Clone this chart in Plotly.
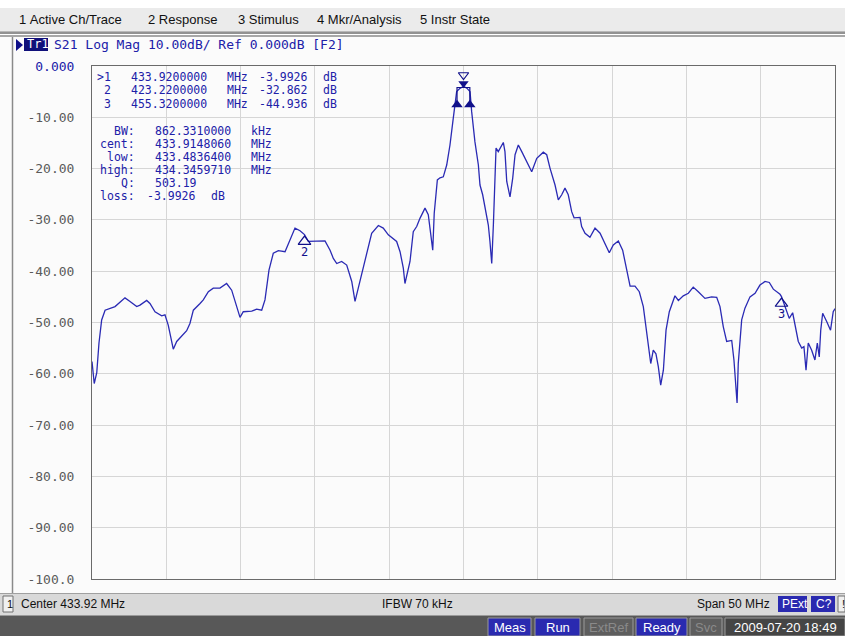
import plotly.graph_objects as go

# ---------------- data ----------------
FREQ_MHZ = [408.92, 409.07, 409.24, 409.39, 409.57, 409.80, 410.47, 411.14, 411.48, 411.93,
            412.15, 412.60, 412.82, 413.16, 413.61, 413.83, 414.05, 414.39, 414.62, 414.96,
            415.29, 415.51, 415.74, 416.19, 416.41, 416.75, 417.08, 417.53, 417.98, 418.32,
            418.54, 418.88, 419.10, 419.67, 420.00, 420.34, 420.56, 420.83, 421.12, 421.46,
            421.91, 422.13, 422.58, 422.92, 423.22, 423.48, 424.15, 424.60, 424.94, 425.16,
            425.39, 425.72, 426.06, 426.40, 426.62, 427.07, 427.41, 427.74, 428.19, 428.52,
            428.86, 429.42, 429.65, 429.87, 429.98, 430.32, 430.54, 430.77, 430.99, 431.33,
            431.55, 431.78, 431.85, 431.95, 432.16, 432.34, 432.56, 432.79, 433.01, 433.23,
            433.35, 433.46, 433.68, 433.92, 434.14, 434.36, 434.47, 434.69, 434.92, 435.03,
            435.21, 435.37, 435.59, 435.70, 435.82, 435.93, 436.04, 436.11, 436.26, 436.42,
            436.60, 436.71, 436.83, 437.05, 437.23, 437.39, 437.61, 437.84, 438.17, 438.51,
            438.85, 439.29, 439.52, 439.74, 440.08, 440.30, 440.53, 440.75, 440.97, 441.20,
            441.36, 441.76, 441.87, 442.10, 442.43, 442.77, 443.11, 443.44, 443.73, 444.00,
            444.34, 444.63, 444.90, 445.13, 445.46, 445.75, 446.02, 446.25, 446.36, 446.52,
            446.69, 446.87, 447.03, 447.19, 447.37, 447.55, 447.77, 448.04, 448.15, 448.38,
            448.71, 449.05, 449.38, 449.72, 450.17, 450.62, 450.96, 451.18, 451.40, 451.63,
            451.97, 452.12, 452.26, 452.33, 452.41, 452.64, 452.86, 453.20, 453.54, 453.87,
            454.21, 454.50, 454.77, 455.22, 455.32, 455.55, 455.84, 456.07, 456.23, 456.45,
            456.68, 456.83, 456.97, 457.12, 457.35, 457.57, 457.73, 457.86, 457.96, 458.09,
            458.36, 458.62, 458.80, 458.92]
S21_DB = [-57.6, -61.9, -59.8, -54.0, -49.5, -47.6, -46.9, -45.2, -45.9, -46.9,
          -46.6, -45.7, -46.3, -47.9, -48.7, -48.5, -50.5, -55.2, -53.7, -52.6,
          -51.6, -50.2, -47.6, -46.3, -45.6, -44.0, -43.3, -43.3, -42.4, -43.7,
          -45.6, -49.0, -47.9, -47.8, -47.4, -47.6, -45.6, -39.8, -36.5, -36.0,
          -36.2, -34.6, -31.6, -32.1, -32.86, -34.2, -34.2, -34.1, -35.9, -37.5,
          -38.5, -38.1, -38.8, -42.0, -45.9, -40.7, -36.2, -32.6, -31.1, -31.6,
          -32.9, -34.2, -36.2, -39.4, -42.4, -38.1, -32.3, -31.3, -29.7, -27.7,
          -29.0, -34.2, -35.9, -28.7, -22.2, -21.8, -21.6, -19.3, -15.4, -10.2,
          -7.6, -5.0, -4.35, -3.99, -4.3, -5.0, -8.9, -14.8, -19.3, -23.2,
          -25.1, -27.7, -31.0, -34.2, -38.5, -31.0, -21.2, -16.0, -16.7, -15.7,
          -14.9, -16.7, -22.5, -25.5, -21.9, -17.3, -15.4, -16.7, -18.6, -20.6,
          -18.0, -16.8, -17.3, -19.9, -23.2, -26.1, -25.1, -23.8, -25.1, -28.4,
          -29.6, -29.5, -31.3, -32.6, -33.4, -31.6, -32.6, -34.6, -36.4, -34.9,
          -34.1, -35.9, -40.1, -42.9, -42.9, -44.0, -46.9, -52.1, -55.4, -58.0,
          -55.4, -56.1, -58.6, -62.2, -59.3, -51.5, -47.9, -45.6, -44.8, -45.7,
          -44.8, -44.3, -43.1, -44.0, -45.3, -45.0, -45.1, -46.9, -50.8, -53.7,
          -53.5, -57.3, -63.8, -65.7, -58.0, -49.5, -47.2, -45.0, -44.3, -42.7,
          -42.0, -42.2, -43.5, -44.5, -44.94, -46.9, -49.2, -48.1, -50.8, -53.7,
          -55.0, -54.7, -59.3, -54.0, -55.4, -57.3, -54.0, -56.7, -51.5, -48.2,
          -49.8, -51.5, -47.9, -47.3]

MARKER_IDS = ["1", "2", "3"]
MARKER_FREQ = [433.92, 423.22, 455.32]
MARKER_DB = [-3.9926, -32.862, -44.936]

BW_LOW = 433.48364
BW_HIGH = 434.345971
BW_LEVEL = -6.9926
BW_LABELS = ["BW:", "cent:", "low:", "high:", "Q:", "loss:"]
BW_VALUES = ["862.3310000", "433.9148060", "433.4836400", "434.3459710", "503.19", "-3.9926"]
BW_UNITS = ["kHz", "MHz", "MHz", "MHz", "", "dB"]

Y_TICKS = [0, -10, -20, -30, -40, -50, -60, -70, -80, -90, -100]
Y_TICK_LABELS = ["0.000", "-10.00", "-20.00", "-30.00", "-40.00", "-50.00",
                 "-60.00", "-70.00", "-80.00", "-90.00", "-100.0"]

CENTER_MHZ = 433.92
SPAN_MHZ = 50.0
MENU_ITEMS = ["1 Active Ch/Trace", "2 Response", "3 Stimulus", "4 Mkr/Analysis", "5 Instr State"]

# ---------------- geometry / style ----------------
W, H = 845, 636
PL, PR, PT, PB = 92, 835, 66, 579
BLUE = "#2020a8"
DKBLUE = "#10108a"
TRACE = "#2a2ab4"
MONO = "DejaVu Sans Mono"
SANS = "Liberation Sans"
x0 = CENTER_MHZ - SPAN_MHZ / 2
x1 = CENTER_MHZ + SPAN_MHZ / 2
dB_per_px = 100.0 / (PB - PT)
MHz_per_px = SPAN_MHZ / (PR - PL)


def px(x):
    return x / W


def py(y):
    return 1 - y / H


def nb(s):
    return s.replace(" ", "\u00a0")


shapes = []
annotations = []


def rect(xa, ya, xb, yb, fill, line=None, lw=0):
    shapes.append(dict(type="rect", xref="paper", yref="paper", x0=px(xa), x1=px(xb),
                       y0=py(yb), y1=py(ya), fillcolor=fill,
                       line=dict(color=line or fill, width=lw), layer="below"))


def hline(xa, xb, y, color, w=1):
    shapes.append(dict(type="line", xref="paper", yref="paper", x0=px(xa), x1=px(xb),
                       y0=py(y), y1=py(y), line=dict(color=color, width=w), layer="below"))


def vline(x, ya, yb, color, w=1):
    shapes.append(dict(type="line", xref="paper", yref="paper", x0=px(x), x1=px(x),
                       y0=py(ya), y1=py(yb), line=dict(color=color, width=w), layer="below"))


def text(x, y, s, size=12, color="#000", font=SANS, anchor="left"):
    annotations.append(dict(xref="paper", yref="paper", x=px(x), y=py(y), text=nb(s),
                            showarrow=False, xanchor=anchor, yanchor="middle",
                            font=dict(family=font, size=size, color=color)))


# window chrome
rect(0, 0, W, 8, "#ffffff")
rect(0, 8, W, 31, "#ebebeb")
hline(0, W, 31.5, "#b8b8b8")
hline(0, W, 33, "#6e6e6e", 1.5)
hline(0, W, 36, "#8a8a8a", 1.5)
rect(0, 37, W, 593, "#fbfbfb")
vline(12.5, 37, 593, "#8a8a8a", 1.5)
rect(0, 593, W, 615, "#d9d9d9")
hline(0, W, 593.5, "#a0a0a0")
rect(0, 615, W, H, "#585858")
hline(0, W, 615.5, "#9a9a9a")

# menu
menu_x = [17, 146, 236, 315, 418]
for mx, item in zip(menu_x, MENU_ITEMS):
    text(mx, 19, item, size=13, color="#111111")

# title line
shapes.append(dict(type="path", xref="paper", yref="paper",
                   path=f"M {px(16)} {py(39)} L {px(23)} {py(45)} L {px(16)} {py(51)} Z",
                   fillcolor=DKBLUE, line=dict(color=DKBLUE, width=0)))
rect(24, 38, 48, 51, "#10107a")
text(25, 44.5, "Tr1", size=12, color="#ffffff", font=MONO)
text(52, 44.5, "S21 Log Mag 10.00dB/ Ref 0.000dB [F2]", size=13, color=BLUE, font=MONO)

# status bar
rect(3, 596, 13, 612, "#f0f0f0", "#707070", 1)
text(5, 604, "1", size=11, color="#111")
text(19, 604, f"Center {CENTER_MHZ:.2f} MHz", size=12, color="#111")
text(380, 604, "IFBW 70 kHz", size=12, color="#111")
text(695, 604, f"Span {SPAN_MHZ:.0f} MHz", size=12, color="#111")
rect(778, 596, 807, 612, "#2a2ab0")
text(780, 604, "PExt", size=12, color="#ffffff")
rect(811, 596, 835, 612, "#2a2ab0")
text(814, 604, "C?", size=12, color="#ffffff")
rect(838, 596, 845, 612, "#f0f0f0", "#707070", 1)
text(839.5, 604, "!", size=11, color="#111")

# bottom bar
bottom_items = [(488, 531, "Meas", "#2a2ab0", "#ffffff"),
                (535, 580, "Run", "#2a2ab0", "#ffffff"),
                (584, 633, "ExtRef", "#5e5e5e", "#8a8a8a"),
                (636, 687, "Ready", "#2a2ab0", "#ffffff"),
                (690, 722, "Svc", "#5e5e5e", "#8a8a8a"),
                (725, 845, "2009-07-20 18:49", "#454545", "#ffffff")]
for bx0, bx1, label, bg, fg in bottom_items:
    rect(bx0, 618, bx1, 636, bg, "#9a9a9a", 1)
    text((bx0 + bx1) / 2, 627, label, size=13, color=fg, anchor="center")

# marker readout text (columns placed on an 8 px character grid)
RS = 11.5
cx = 97.3
for i, (mid, f, v) in enumerate(zip(MARKER_IDS, MARKER_FREQ, MARKER_DB)):
    yy = 76.7 + i * 13.6
    text(cx + 16, yy, (">" if i == 0 else "") + mid, size=RS, color=BLUE, font=MONO, anchor="right")
    text(cx + 4 * 8, yy, f"{f:.7f}", size=RS, color=BLUE, font=MONO)
    text(cx + 16 * 8, yy, "MHz", size=RS, color=BLUE, font=MONO)
    text(cx + 20 * 8, yy, f"{v:.5g}", size=RS, color=BLUE, font=MONO)
    text(cx + 28 * 8, yy, "dB", size=RS, color=BLUE, font=MONO)
for i, (lab, val, unit) in enumerate(zip(BW_LABELS, BW_VALUES, BW_UNITS)):
    yy = 130.7 + i * 13.1
    text(cx + 5 * 8, yy, lab, size=RS, color=BLUE, font=MONO, anchor="right")
    vstart = cx + (6 if val.startswith("-") else 7) * 8
    text(vstart, yy, val, size=RS, color=BLUE, font=MONO)
    if unit:
        ustart = cx + (14 if unit == "dB" else 19) * 8
        text(ustart, yy, unit, size=RS, color=BLUE, font=MONO)

fig = go.Figure()

fig.add_trace(go.Scatter(x=FREQ_MHZ, y=S21_DB, mode="lines",
                         line=dict(color=TRACE, width=1.3), hoverinfo="skip"))

# bandwidth bracket of marker 1
top_lvl = MARKER_DB[0] - 0.2
fig.add_trace(go.Scatter(x=[BW_LOW, BW_LOW, BW_HIGH, BW_HIGH],
                         y=[BW_LEVEL, top_lvl, top_lvl, BW_LEVEL], mode="lines",
                         line=dict(color=DKBLUE, width=1.2), hoverinfo="skip"))
fig.add_trace(go.Scatter(x=[BW_LOW, BW_HIGH], y=[BW_LEVEL - 3 * dB_per_px] * 2, mode="markers",
                         marker=dict(symbol="triangle-up", size=10, color=DKBLUE),
                         hoverinfo="skip", cliponaxis=False))

# marker 1 glyphs
fig.add_trace(go.Scatter(x=[MARKER_FREQ[0]], y=[MARKER_DB[0] + 3 * dB_per_px], mode="markers",
                         marker=dict(symbol="triangle-down", size=9, color=DKBLUE),
                         hoverinfo="skip", cliponaxis=False))
fig.add_trace(go.Scatter(x=[MARKER_FREQ[0]], y=[-9 * dB_per_px], mode="markers",
                         marker=dict(symbol="triangle-down-open", size=9, color=DKBLUE,
                                     line=dict(color=DKBLUE, width=1.2)),
                         hoverinfo="skip", cliponaxis=False))
fig.add_trace(go.Scatter(x=[MARKER_FREQ[0]], y=[1.5 * dB_per_px], mode="text", text=["1"],
                         textfont=dict(family=MONO, size=11, color=DKBLUE),
                         hoverinfo="skip", cliponaxis=False))

# markers 2 and 3
fig.add_trace(go.Scatter(x=MARKER_FREQ[1:], y=[v - 7 * dB_per_px for v in MARKER_DB[1:]],
                         mode="markers",
                         marker=dict(symbol="triangle-up-open", size=11, color=DKBLUE,
                                     line=dict(color=DKBLUE, width=1.2)),
                         hoverinfo="skip"))
fig.add_trace(go.Scatter(x=MARKER_FREQ[1:], y=[v - 18 * dB_per_px for v in MARKER_DB[1:]],
                         mode="text", text=MARKER_IDS[1:],
                         textfont=dict(family=MONO, size=12, color=DKBLUE),
                         hoverinfo="skip"))

# markers along the bottom edge
ybot = -100 - 6 * dB_per_px
fig.add_trace(go.Scatter(x=MARKER_FREQ[1:], y=[ybot] * 2, mode="markers",
                         marker=dict(symbol="triangle-up-open", size=13, color="#2020a0",
                                     line=dict(color="#2020a0", width=1.2)),
                         hoverinfo="skip", cliponaxis=False))
fig.add_trace(go.Scatter(x=[MARKER_FREQ[0]], y=[ybot], mode="markers",
                         marker=dict(symbol="triangle-up", size=13, color=DKBLUE),
                         hoverinfo="skip", cliponaxis=False))

# reference level arrows
fig.add_trace(go.Scatter(x=[x0 - 5.5 * MHz_per_px], y=[0], mode="markers",
                         marker=dict(symbol="triangle-right", size=14, color=DKBLUE),
                         hoverinfo="skip", cliponaxis=False))
fig.add_trace(go.Scatter(x=[x1 + 6 * MHz_per_px], y=[0], mode="markers",
                         marker=dict(symbol="triangle-left", size=14, color=DKBLUE),
                         hoverinfo="skip", cliponaxis=False))

tick_text = [f'<span style="color:{BLUE}">{Y_TICK_LABELS[0]}</span>'] + Y_TICK_LABELS[1:]

fig.update_layout(
    template="none",
    width=W, height=H, margin=dict(l=0, r=0, t=0, b=0, pad=0, autoexpand=False),
    paper_bgcolor="#ffffff", plot_bgcolor="#ffffff",
    showlegend=False,
    shapes=shapes, annotations=annotations,
    xaxis=dict(domain=[px(PL), px(PR)], range=[x0, x1], tick0=x0, dtick=5,
               showticklabels=False, ticks="", showgrid=True, gridcolor="#d6d6d6",
               gridwidth=1, zeroline=False, showline=True, mirror=True, automargin=False,
               linecolor="#6a6a6a", linewidth=1, fixedrange=True),
    yaxis=dict(domain=[py(PB), py(PT)], range=[-100, 0], tickvals=Y_TICKS,
               ticktext=tick_text, ticks="", ticklabelstandoff=14, automargin=False,
               tickfont=dict(family=MONO, size=13, color="#5a5a5a"),
               showgrid=True, gridcolor="#d6d6d6", gridwidth=1, zeroline=False,
               showline=True, mirror=True, linecolor="#6a6a6a", linewidth=1,
               fixedrange=True),
)

fig.write_html("out.html", config={"displayModeBar": False},
               post_script="document.body.style.margin='0';")
